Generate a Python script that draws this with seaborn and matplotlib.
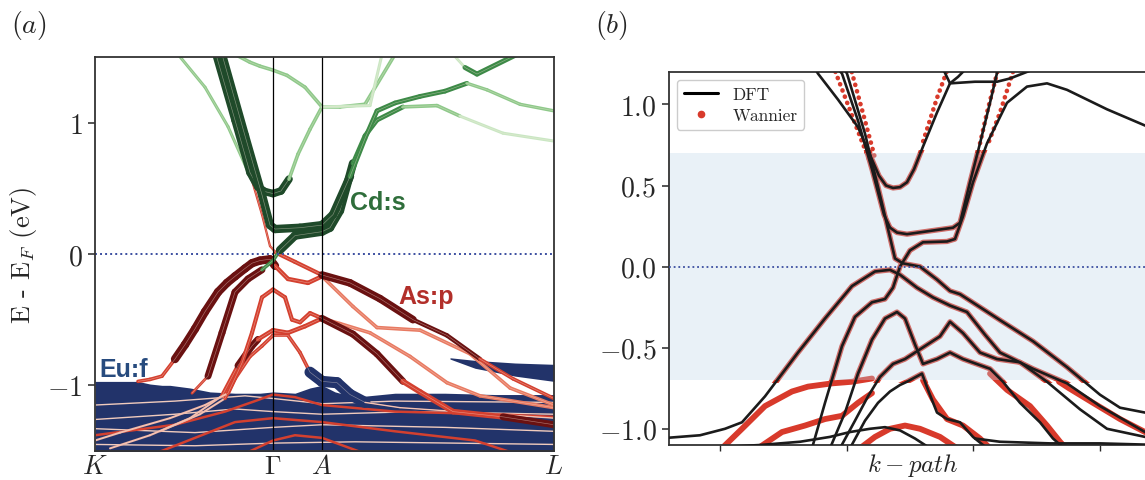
import numpy as np
import pandas as pd
import matplotlib
matplotlib.use("Agg")
import matplotlib.pyplot as plt
import seaborn as sns
from matplotlib.collections import LineCollection
from matplotlib.lines import Line2D
from matplotlib.patches import Rectangle

# ======================= panel (a) data (k along K-Γ-A-L, E in eV) =======================
path_ticks = [0.0, 1.78, 2.27, 4.59]
path_labels = [r"$K$", r"$\Gamma$", r"$A$", r"$L$"]

a_dirac_k = [0.83, 1.10, 1.33, 1.57, 1.67, 1.75, 1.81, 2.00, 2.27, 2.55, 2.85, 3.18, 3.52, 3.85, 4.18, 4.59]
a_dirac_E = [1.52, 1.27, 0.97, 0.56, 0.30, 0.06, 0.01, -0.06, -0.16, -0.22, -0.34, -0.50, -0.62, -0.80, -0.95, -1.10]

a_u_k = [1.21, 1.40, 1.55, 1.63, 1.70, 1.78, 1.86, 1.94, 2.03, 2.15, 2.27, 2.75, 2.87]
a_u_E = [1.52, 1.02, 0.62, 0.51, 0.475, 0.46, 0.48, 0.57, 0.76, 0.95, 1.12, 1.13, 1.52]

a_flat_k = [1.27, 1.50, 1.67, 1.75, 1.80, 2.05, 2.27, 2.38, 2.55, 2.70, 2.82, 3.00, 3.25, 3.50, 3.72, 3.92, 4.25, 4.59]
a_flat_E = [1.52, 0.90, 0.45, 0.22, 0.19, 0.20, 0.22, 0.30, 0.59, 0.88, 1.09, 1.15, 1.20, 1.24, 1.30, 1.25, 1.14, 1.09]

a_top_k = [1.40, 1.55, 1.65, 1.78, 1.92, 2.10, 2.27, 2.45, 2.70, 3.00]
a_top_E = [1.52, 1.46, 1.43, 1.40, 1.36, 1.27, 1.12, 1.12, 1.14, 1.52]

a_hi_k = [3.58, 3.70, 3.82, 4.22]
a_hi_E = [1.52, 1.42, 1.37, 1.52]

a_vb2_k = [0.97, 1.13, 1.27, 1.40, 1.53, 1.67, 1.78, 1.85, 2.00, 2.27, 2.35, 2.45, 2.58, 2.70, 2.82, 3.08, 3.42, 3.65, 4.08, 4.59]
a_vb2_E = [-1.06, -0.93, -0.60, -0.29, -0.19, -0.12, -0.05, 0.03, 0.14, 0.17, 0.20, 0.33, 0.69, 0.90, 1.02, 1.12, 1.13, 1.05, 0.92, 0.86]

a_vb1_k = [0.43, 0.55, 0.67, 0.80, 0.90, 1.00, 1.10, 1.23, 1.32, 1.40, 1.50, 1.57, 1.65, 1.75, 1.80, 1.93, 2.13, 2.27, 2.58, 2.82, 3.25, 3.75, 4.15, 4.59]
a_vb1_E = [-0.97, -0.955, -0.93, -0.80, -0.69, -0.57, -0.44, -0.29, -0.22, -0.17, -0.11, -0.07, -0.05, -0.04, -0.09, -0.19, -0.22, -0.17, -0.40, -0.56, -0.58, -0.76, -1.02, -1.15]

a_vb3_k = [0.0, 0.25, 0.75, 1.10, 1.33, 1.47, 1.57, 1.67, 1.78, 1.90, 1.97, 2.05, 2.15, 2.27, 2.58, 2.82, 3.08, 3.25, 3.58, 4.08, 4.59]
a_vb3_E = [-1.42, -1.36, -1.25, -1.15, -1.06, -0.83, -0.60, -0.33, -0.27, -0.33, -0.50, -0.52, -0.45, -0.49, -0.61, -0.76, -0.97, -1.05, -1.20, -1.24, -1.30]

a_vb4_k = [0.15, 0.55, 0.95, 1.27, 1.43, 1.57, 1.63, 1.78, 1.93, 2.10, 2.27, 2.45, 2.75, 3.15, 3.52, 3.85, 4.59]
a_vb4_E = [-1.48, -1.38, -1.25, -1.08, -0.85, -0.70, -0.65, -0.58, -0.60, -0.55, -0.49, -0.53, -0.60, -0.78, -0.98, -1.08, -1.17]

a_vb6_k = [0.65, 1.05, 1.30, 1.40, 1.55, 1.67, 1.78, 1.93, 2.05, 2.15, 2.27, 2.42, 2.55, 2.70, 3.05, 4.59]
a_vb6_E = [-1.35, -1.22, -1.10, -0.95, -0.78, -0.70, -0.62, -0.62, -0.75, -0.90, -0.97, -0.98, -1.07, -1.13, -1.17, -1.25]

# Eu:f manifold (upper edge of the dense f block) and the separate f band near L
euf_k = [0.0, 0.43, 0.55, 0.67, 0.75, 0.95, 1.15, 1.40, 1.65, 1.78, 2.00, 2.15, 2.27, 2.40, 2.60, 3.00, 3.50, 4.00, 4.59]
euf_top = [-0.97, -0.97, -0.99, -1.00, -1.00, -1.02, -1.05, -1.06, -1.06, -1.05, -1.06, -1.02, -1.00, -1.05, -1.09, -1.06, -1.06, -1.07, -1.07]
eufL_k = [3.55, 3.80, 4.20, 4.59]
eufL_top = [-0.79, -0.81, -0.83, -0.84]
eufL_bot = [-0.80, -0.87, -0.93, -0.97]

# bands buried in the f block
in1_k = [0, 0.8, 1.5, 1.78, 2.27, 3.0, 4.59];            in1_E = [-1.15, -1.12, -1.08, -1.10, -1.14, -1.12, -1.13]
in2_k = [0, 0.8, 1.4, 1.78, 2.27, 3.2, 4.59];            in2_E = [-1.26, -1.22, -1.18, -1.20, -1.22, -1.20, -1.22]
in3_k = [0, 0.8, 1.3, 1.6, 1.78, 2.0, 2.27, 3.0, 4.0, 4.59]
in3_E = [-1.38, -1.30, -1.20, -1.12, -1.07, -1.09, -1.15, -1.20, -1.22, -1.24]
in4_k = [0, 1.0, 1.78, 2.27, 3.5, 4.59];                 in4_E = [-1.33, -1.36, -1.32, -1.30, -1.32, -1.35]
in5_k = [0.6, 1.0, 1.4, 1.78, 2.27, 3.0, 3.8, 4.2];      in5_E = [-1.52, -1.40, -1.28, -1.25, -1.28, -1.35, -1.42, -1.52]
in6_k = [1.5, 1.78, 2.0, 2.27, 2.7];                     in6_E = [-1.52, -1.42, -1.38, -1.40, -1.52]
in7_k = [0, 1.0, 1.78, 2.6, 4.59];                       in7_E = [-1.45, -1.46, -1.44, -1.43, -1.45]

# ======================= panel (b) data (DFT vs Wannier) =======================
b_ticks = [0.51, 1.78, 3.04, 4.31]

b_cb1_k = [1.46, 1.49, 1.69, 1.89, 2.03, 2.10, 2.17, 2.24, 2.31, 2.38, 2.45, 2.54, 2.68, 2.81, 2.89, 2.97]
b_cb1_E = [1.22, 1.19, 1.03, 0.86, 0.66, 0.56, 0.50, 0.485, 0.49, 0.52, 0.60, 0.74, 0.95, 1.13, 1.17, 1.22]
b_t2_k = [2.74, 2.81, 3.06, 3.28, 3.41, 3.66]
b_t2_E = [1.22, 1.13, 1.14, 1.14, 1.16, 1.22]
b_cb2_k = [1.69, 1.73, 1.89, 2.03, 2.15, 2.21, 2.28, 2.38, 2.61, 2.84, 2.91, 3.01, 3.11, 3.21, 3.29]
b_cb2_E = [1.22, 1.19, 0.90, 0.60, 0.32, 0.24, 0.21, 0.20, 0.22, 0.24, 0.27, 0.52, 0.76, 1.01, 1.22]
b_d1_k = [1.75, 1.78, 1.96, 2.13, 2.26, 2.34, 2.51, 2.68, 2.81, 2.91, 3.31, 3.64, 3.98, 4.31, 4.51, 4.76, 4.91]
b_d1_E = [1.22, 1.19, 0.82, 0.39, 0.05, 0.02, 0.00, -0.08, -0.15, -0.17, -0.33, -0.46, -0.62, -0.79, -0.87, -0.90, -0.91]
b_v1_k = [0.0, 0.31, 0.56, 0.73, 0.96, 1.29, 1.56, 1.83, 2.06, 2.21, 2.31, 2.48, 2.64, 2.81, 2.98, 3.16, 3.31, 3.64, 3.98, 4.31, 4.76, 4.91]
b_v1_E = [-1.055, -1.04, -1.00, -0.96, -0.80, -0.53, -0.32, -0.12, -0.03, -0.02, -0.05, -0.13, -0.19, -0.24, -0.28, -0.42, -0.53, -0.63, -0.72, -0.86, -1.02, -1.06]
b_v2_k = [1.43, 1.56, 1.73, 1.86, 2.03, 2.16, 2.24, 2.31, 2.41, 2.54, 2.78, 2.86, 2.94, 3.04, 3.18, 3.38, 3.58, 3.78, 3.98, 4.38, 4.76, 4.91]
b_v2_E = [-1.12, -0.84, -0.49, -0.31, -0.22, -0.20, -0.13, 0.00, 0.10, 0.15, 0.155, 0.17, 0.31, 0.52, 0.76, 1.01, 1.11, 1.13, 1.09, 0.97, 0.87, 0.84]
b_v3_k = [1.61, 1.76, 1.89, 2.03, 2.16, 2.28, 2.36, 2.46, 2.54, 2.68, 2.81, 2.94, 3.21, 3.34, 3.51, 3.71, 3.84, 3.95]
b_v3_E = [-1.12, -0.90, -0.66, -0.45, -0.32, -0.28, -0.32, -0.48, -0.60, -0.57, -0.53, -0.57, -0.63, -0.71, -0.84, -0.96, -1.06, -1.12]
b_v4_k = [1.71, 1.86, 1.99, 2.11, 2.24, 2.36, 2.51, 2.71, 2.81, 2.94, 3.11, 3.28, 3.51, 3.78, 4.11, 4.38, 4.76, 4.91]
b_v4_E = [-1.12, -0.95, -0.80, -0.68, -0.60, -0.57, -0.51, -0.43, -0.34, -0.41, -0.53, -0.57, -0.59, -0.71, -0.88, -1.00, -1.05, -1.06]
b_v5_k = [1.81, 1.96, 2.09, 2.21, 2.31, 2.38, 2.53, 2.59, 2.68, 2.78, 2.91, 3.04, 3.18]
b_v5_E = [-1.12, -0.95, -0.84, -0.77, -0.73, -0.71, -0.66, -0.76, -0.90, -0.94, -0.96, -1.05, -1.12]
b_v6_k = [0.31, 0.91, 1.31, 1.61, 1.81, 2.01, 2.16, 2.31, 2.46, 2.61]
b_v6_E = [-1.12, -1.10, -1.08, -1.05, -1.02, -1.00, -0.99, -1.01, -1.06, -1.12]
b_v8_k = [3.06, 3.31, 3.81, 4.31, 4.91]
b_v8_E = [-1.06, -1.08, -1.09, -1.09, -1.10]

# Wannier bands where they leave the DFT bands
w_a_k = [0.53, 0.73, 0.96, 1.23, 1.39, 1.63, 1.83, 2.03]
w_a_E = [-1.12, -1.00, -0.86, -0.77, -0.74, -0.72, -0.71, -0.69]
w_b_k = [0.89, 1.13, 1.36, 1.56, 1.73, 1.89, 2.03]
w_b_E = [-1.12, -1.02, -0.98, -0.94, -0.92, -0.84, -0.78]
w_c_k = [1.91, 2.06, 2.21, 2.36, 2.51, 2.71, 2.88]
w_c_E = [-1.12, -1.05, -1.00, -0.98, -1.00, -1.05, -1.12]
w_d_k = [2.54, 2.64, 2.78, 2.94, 3.11, 3.21]
w_d_E = [-0.70, -0.82, -0.94, -0.98, -1.06, -1.12]
w_e1_k = [3.21, 3.38, 3.61, 3.78, 3.91, 3.97]
w_e1_E = [-0.66, -0.76, -0.86, -0.98, -1.08, -1.12]
w_e2_k = [3.90, 4.00, 4.24, 4.51, 4.76, 4.91]
w_e2_E = [-0.71, -0.75, -0.84, -0.94, -1.02, -1.06]
# Wannier dots above the frozen window
wu1_k = [1.64, 1.93, 2.04];  wu1_E = [1.24, 0.77, 0.60]
wu2_k = [1.81, 1.96, 2.06];  wu2_E = [1.24, 0.90, 0.67]
wu3_k = [2.80, 2.68, 2.54];  wu3_E = [1.24, 1.04, 0.77]
wu4_k = [3.30, 3.18, 3.11];  wu4_E = [1.24, 0.95, 0.76]
wu5_k = [3.46, 3.31, 3.18];  wu5_E = [1.24, 0.95, 0.74]

window = (-0.7, 0.7)

# ======================= styling =======================
sns.set_theme(style="ticks")
plt.rcParams["font.family"] = ["cmr10", "DejaVu Serif"]
plt.rcParams["mathtext.fontset"] = "cm"
plt.rcParams["axes.formatter.use_mathtext"] = True
plt.rcParams["axes.unicode_minus"] = True

DK_RED, RED, LRED, PRED = "#6a1111", "#d4402f", "#e87a62", "#f2b4a2"
DK_GRN, GRN, LGRN, PGRN = "#1f4a2a", "#3d8a47", "#8ec98a", "#c9e7c3"
NAVY = "#22336a"
FERMI = "#3b4ea0"

st_dirac = [(0, 1.62, LGRN, 2.2), (1.62, 1.80, RED, 1.6), (1.80, 2.27, RED, 3.0),
            (2.27, 3.3, DK_RED, 5.5), (3.3, 4.0, DK_RED, 3.2), (4.0, 9, RED, 2.6)]
st_u = [(0, 1.92, DK_GRN, 5.5), (1.92, 2.27, LGRN, 2.6), (2.27, 9, PGRN, 2.2)]
st_flat = [(0, 2.6, DK_GRN, 6.0), (2.6, 3.7, GRN, 3.4), (3.7, 9, LGRN, 2.4)]
st_top = [(0, 9, LGRN, 2.6)]
st_hi = [(0, 3.75, PGRN, 2.0), (3.75, 9, GRN, 3.6)]
st_vb2 = [(0, 1.05, RED, 2.0), (1.05, 1.72, DK_RED, 5.0), (1.72, 1.92, GRN, 2.6),
          (1.92, 2.62, DK_GRN, 6.0), (2.62, 3.0, GRN, 3.4), (3.0, 3.6, LGRN, 2.6), (3.6, 9, PGRN, 2.2)]
st_vb1 = [(0, 0.74, RED, 2.6), (0.74, 1.78, DK_RED, 6.0), (1.78, 2.27, RED, 3.2), (2.27, 9, LRED, 2.6)]
st_vb3 = [(0, 1.25, PRED, 1.5), (1.25, 2.27, RED, 3.0), (2.27, 3.1, DK_RED, 5.0),
          (3.1, 4.2, RED, 4.0), (4.2, 9, DK_RED, 5.0)]
st_vb4 = [(0, 1.2, PRED, 1.5), (1.2, 1.5, RED, 3.0), (1.5, 1.7, DK_RED, 5.0),
          (1.7, 2.27, RED, 3.2), (2.27, 9, LRED, 2.6)]
st_vb6 = [(0, 1.3, PRED, 1.5), (1.3, 2.1, RED, 2.6), (2.1, 2.75, NAVY, 8.0), (2.75, 9, PRED, 1.0)]


def fat_band(ax, k, e, style, z):
    k = np.asarray(k, float)
    e = np.asarray(e, float)
    pts = np.column_stack([k, e])
    segs = np.stack([pts[:-1], pts[1:]], axis=1)
    mids = 0.5 * (k[:-1] + k[1:])
    cols, lws = [], []
    for m in mids:
        for k0, k1, c, w in style:
            if k0 <= m < k1:
                cols.append(c)
                lws.append(w)
                break
    ax.add_collection(LineCollection(segs, colors=cols, linewidths=lws,
                                     capstyle="round", joinstyle="round", zorder=z))
    ax.add_collection(LineCollection([pts], colors="#fbe9de", linewidths=0.45,
                                     alpha=0.45, zorder=z + 0.01))


fig = plt.figure(figsize=(11.45, 4.81), dpi=100)
axa = fig.add_axes([95 / 1145, 29 / 481, 459 / 1145, 394 / 481])
axb = fig.add_axes([669 / 1145, 35 / 481, 488 / 1145, 373 / 481])

# ---------------------------- panel (a) ----------------------------
axa.fill_between(euf_k, euf_top, -1.6, color=NAVY, lw=0, zorder=1)
axa.fill_between(eufL_k, eufL_top, eufL_bot, color=NAVY, lw=0, zorder=1)
for kk, ee in [(in1_k, in1_E), (in2_k, in2_E), (in4_k, in4_E), (in7_k, in7_E)]:
    axa.plot(kk, ee, color="#f1cbbd", lw=1.0, zorder=2)
for kk, ee in [(in3_k, in3_E), (in5_k, in5_E), (in6_k, in6_E)]:
    axa.plot(kk, ee, color=RED, lw=1.8, zorder=2, solid_capstyle="round")

bands_a = [
    (a_vb6_k, a_vb6_E, st_vb6), (a_vb4_k, a_vb4_E, st_vb4), (a_vb3_k, a_vb3_E, st_vb3),
    (a_vb1_k, a_vb1_E, st_vb1), (a_dirac_k, a_dirac_E, st_dirac), (a_vb2_k, a_vb2_E, st_vb2),
    (a_top_k, a_top_E, st_top), (a_hi_k, a_hi_E, st_hi), (a_u_k, a_u_E, st_u),
    (a_flat_k, a_flat_E, st_flat),
]
for i, (kk, ee, st) in enumerate(bands_a):
    fat_band(axa, kk, ee, st, 3 + 0.1 * i)

axa.axhline(0, color=FERMI, lw=1.4, ls=(0, (1, 1.6)), zorder=6)
for kv in path_ticks[1:3]:
    axa.axvline(kv, color="black", lw=0.9, zorder=7)

axa.set_xlim(0, 4.59)
axa.set_ylim(-1.5, 1.5)
axa.set_xticks(path_ticks, path_labels)
axa.set_yticks([-1, 0, 1])
axa.tick_params(axis="x", length=0, labelsize=19, pad=2)
axa.tick_params(axis="y", length=5, width=1.1, labelsize=20, direction="out", pad=4)
axa.set_ylabel(r"E - E$_F$ (eV)", fontsize=19, labelpad=6)
for sp in axa.spines.values():
    sp.set_linewidth(1.3)
    sp.set_color("#333333")
    sp.set_zorder(8)

lab = dict(family="Liberation Sans", fontweight="bold", fontsize=18, zorder=9)
axa.text(0.04, -0.93, "Eu:f", color="#274b7e", ha="left", va="baseline", **lab)
axa.text(3.03, -0.37, "As:p", color="#b22f2a", ha="left", va="baseline", **lab)
axa.text(2.55, 0.34, "Cd:s", color="#2f6e3b", ha="left", va="baseline", **lab)

# ---------------------------- panel (b) ----------------------------
W_RED = "#d83a2b"
dft = {
    "cb1": (b_cb1_k, b_cb1_E), "t2": (b_t2_k, b_t2_E), "cb2": (b_cb2_k, b_cb2_E),
    "d1": (b_d1_k, b_d1_E), "v1": (b_v1_k, b_v1_E), "v2": (b_v2_k, b_v2_E),
    "v3": (b_v3_k, b_v3_E), "v4": (b_v4_k, b_v4_E), "v5": (b_v5_k, b_v5_E),
    "v6": (b_v6_k, b_v6_E), "v8": (b_v8_k, b_v8_E),
}
wannier_follow = ["cb1", "cb2", "d1", "v1", "v2", "v3", "v4", "v5"]
wannier_free = [(w_a_k, w_a_E), (w_b_k, w_b_E), (w_c_k, w_c_E), (w_d_k, w_d_E),
                (w_e1_k, w_e1_E), (w_e2_k, w_e2_E)]
wannier_dots = [(wu1_k, wu1_E), (wu2_k, wu2_E), (wu3_k, wu3_E), (wu4_k, wu4_E), (wu5_k, wu5_E)]

clip = Rectangle((-1, window[0] - 0.02), 10, window[1] - window[0] + 0.04, transform=axb.transData)
for name in wannier_follow:
    kk, ee = dft[name]
    ln, = axb.plot(kk, ee, color=W_RED, lw=3.8, solid_capstyle="round", solid_joinstyle="round", zorder=1)
    ln.set_clip_path(clip)
for kk, ee in wannier_free:
    axb.plot(kk, ee, color=W_RED, lw=4.2, solid_capstyle="round", solid_joinstyle="round", zorder=1)
for kk, ee in wannier_dots:
    axb.plot(kk, ee, color=W_RED, lw=3.3, ls=(0, (0.05, 1.4)), dash_capstyle="round", zorder=1)

axb.axhspan(window[0], window[1], color=(0.74, 0.84, 0.91), alpha=0.33, lw=0, zorder=2)

rows = []
for name, (kk, ee) in dft.items():
    rows += [(name, a, b) for a, b in zip(kk, ee)]
df = pd.DataFrame(rows, columns=["band", "k", "E"])
sns.lineplot(data=df, x="k", y="E", units="band", estimator=None, sort=False,
             color="#1b1b1b", lw=1.9, ax=axb, zorder=3, legend=False)

axb.axhline(0, color=FERMI, lw=1.3, ls=(0, (1, 1.6)), zorder=4)

axb.set_xlim(0, 4.88)
axb.set_ylim(-1.1, 1.2)
axb.set_yticks([-1.0, -0.5, 0.0, 0.5, 1.0])
axb.set_xticks(b_ticks, [""] * len(b_ticks))
axb.tick_params(axis="y", length=5, width=1.1, labelsize=20, direction="out", pad=4)
axb.tick_params(axis="x", length=4, width=1.0, direction="out", pad=0)
axb.set_xlabel(r"$k-path$", fontsize=18, labelpad=0)
axb.set_ylabel("")
for sp in axb.spines.values():
    sp.set_linewidth(1.3)
    sp.set_color("#333333")

handles = [Line2D([], [], color="black", lw=2.2),
           Line2D([], [], color=W_RED, marker="o", ls="none", markersize=4.5)]
leg = axb.legend(handles, ["DFT", "Wannier"], loc="upper left", fontsize=12.5,
                 frameon=True, fancybox=True, framealpha=1.0, edgecolor="#cccccc",
                 handlelength=2.0, borderpad=0.4, labelspacing=0.3, borderaxespad=0.45)
leg.set_zorder(10)

fig.text(29 / 1145, 1 - 25 / 481, r"$(a)$", ha="center", va="center", fontsize=20)
fig.text(611 / 1145, 1 - 25 / 481, r"$(b)$", ha="center", va="center", fontsize=20)

fig.savefig("out.png", dpi=100)
